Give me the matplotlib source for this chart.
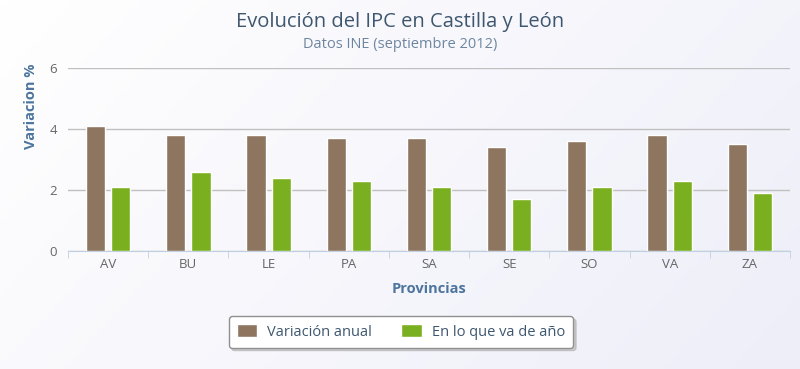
import numpy as np
import matplotlib.pyplot as plt
from matplotlib.colors import LinearSegmentedColormap

provincias = ['AV', 'BU', 'LE', 'PA', 'SA', 'SE', 'SO', 'VA', 'ZA']
variacion_anual = [4.1, 3.8, 3.8, 3.7, 3.7, 3.4, 3.6, 3.8, 3.5]
en_lo_que_va = [2.1, 2.6, 2.4, 2.3, 2.1, 1.7, 2.1, 2.3, 1.9]

plt.rcParams['font.family'] = ['Open Sans', 'DejaVu Sans']

fig = plt.figure(figsize=(8, 3.69), dpi=100)

# fondo con degradado diagonal
bg = fig.add_axes([0, 0, 1, 1], zorder=-10)
gx, gy = np.meshgrid(np.linspace(0, 1, 200), np.linspace(0, 1, 100))
grad = (gx * 0.7 + gy * 0.3)
cmap = LinearSegmentedColormap.from_list('g', ['#ffffff', '#eeeef9'])
bg.imshow(grad, aspect='auto', extent=[0, 1, 0, 1], cmap=cmap, origin='upper')
bg.set_xlim(0, 1)
bg.set_ylim(0, 1)
bg.axis('off')

ax = fig.add_axes([68 / 800, 1 - 251 / 369, (790 - 68) / 800, (251 - 68) / 369])
ax.patch.set_alpha(0)

x = np.arange(len(provincias))
w = 0.24
off = 0.157
ax.bar(x - off, variacion_anual, w, color='#8D7560', edgecolor='white', lw=1, zorder=3,
       label='Variación anual')
ax.bar(x + off, en_lo_que_va, w, color='#7AB020', edgecolor='white', lw=1, zorder=3,
       label='En lo que va de año')

ax.set_xlim(-0.5, len(provincias) - 0.5)
ax.set_ylim(0, 6)
ax.set_yticks([0, 2, 4, 6])
ax.yaxis.grid(True, color='#C0C0C0', lw=1)
ax.set_axisbelow(True)
for s in ['top', 'right', 'left']:
    ax.spines[s].set_visible(False)
ax.spines['bottom'].set_color('#C0D0E0')
ax.tick_params(axis='y', length=0, labelsize=9.5, labelcolor='#666666', pad=8)
ax.set_xticks(x)
ax.set_xticklabels(provincias)
ax.tick_params(axis='x', length=0, labelsize=9.5, labelcolor='#666666', pad=5)
ax.set_xticks(np.arange(len(provincias) + 1) - 0.5, minor=True)
ax.tick_params(axis='x', which='minor', length=5, color='#C0D0E0')

ax.set_xlabel('Provincias', fontsize=10.5, fontweight='bold', color='#4D759E', labelpad=8)
fig.text(31 / 800, 1 - 106 / 369, 'Variacion %', rotation=90, ha='center', va='center',
         fontsize=10.5, fontweight='bold', color='#4D759E')

fig.text(0.5, 1 - 22 / 369, 'Evolución del IPC en Castilla y León', ha='center', va='center',
         fontsize=14.5, color='#3E576F')
fig.text(0.5, 1 - 45 / 369, 'Datos INE (septiembre 2012)', ha='center', va='center',
         fontsize=10.5, color='#6D869F')

leg = fig.legend(loc='center', bbox_to_anchor=(401 / 800, 1 - 332 / 369), ncol=2, frameon=True,
                 fontsize=10.5, handlelength=1.4, handleheight=1.0, handletextpad=0.7,
                 columnspacing=2.0, borderpad=0.55, borderaxespad=0, fancybox=True,
                 shadow={'color': '#b0b0b0', 'alpha': 0.6}, labelcolor='#3E576F')
leg.get_frame().set_edgecolor('#909090')
leg.get_frame().set_facecolor('white')

fig.savefig('out.png', dpi=100)
